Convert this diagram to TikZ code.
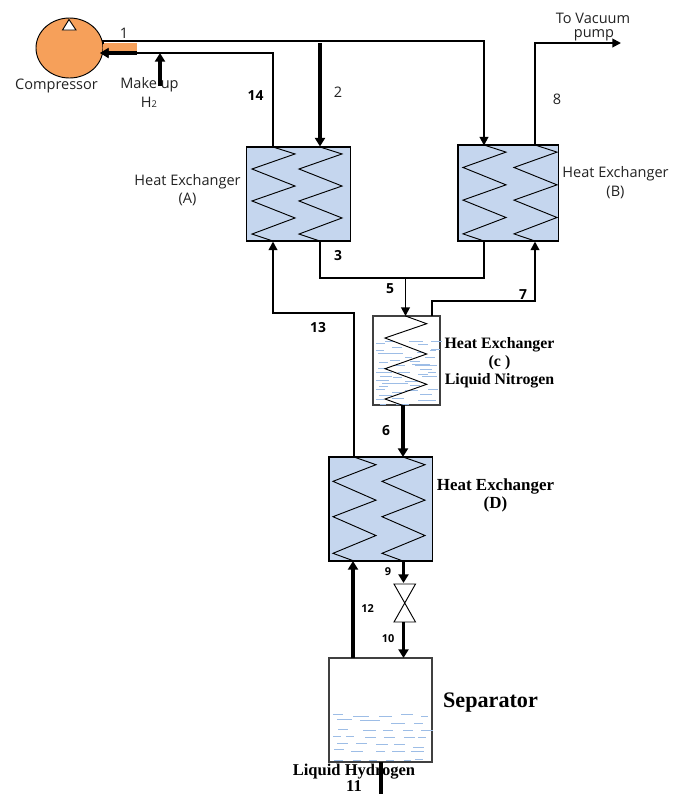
\documentclass[tikz,border=0pt]{standalone}
\usepackage{fontspec}
\setmainfont{Liberation Serif}
\newfontfamily\lblfont{Open Sans}
\usetikzlibrary{arrows.meta,calc,shapes.geometric}
\definecolor{hxblue}{HTML}{C5D6EE}
\definecolor{comporange}{HTML}{F6A05A}
\definecolor{liqblue}{HTML}{9DBDE6}
\definecolor{txt}{HTML}{222222}
\tikzset{
  hxbox/.style={draw=black,fill=hxblue,line width=0.8pt,minimum width=#1,inner sep=0pt,outer sep=0pt},
  vessel/.style={draw=black!75,fill=white,line width=0.8pt,inner sep=0pt,outer sep=0pt},
  coilline/.style={line width=0.7pt,line join=miter},
  pipe/.style={line width=1.4pt,line join=miter,-{Triangle[length=6.5pt,width=6.5pt]}},
  pipeplain/.style={line width=1.4pt,line join=miter},
  thickpipe/.style={line width=2.6pt,-{Triangle[length=6.5pt,width=7.5pt]}},
  lbl/.style={font=\lblfont\fontsize{10.9}{12}\selectfont,text=txt,align=center,inner sep=0pt},
  num/.style={font=\lblfont\bfseries\fontsize{10.4}{12}\selectfont,text=black,inner sep=0pt},
  small/.style={font=\lblfont\bfseries\fontsize{8.2}{10}\selectfont,text=black,inner sep=0pt},
  serifb/.style={font=\bfseries\fontsize{11.9}{15}\selectfont,text=black,align=center,inner sep=0pt},
  serifd/.style={font=\bfseries\fontsize{12.7}{15}\selectfont,text=black,align=center,inner sep=0pt},
  liq/.style={liqblue,line width=0.6pt},
}
\newcommand{\coil}[3]{% start x, top y, height
  \draw[coilline] (#1,#2)
   -- ++(22,0.074*#3) -- ++(-43,0.160*#3) -- ++(43,0.181*#3) -- ++(-43,0.159*#3)
   -- ++(43,0.181*#3) -- ++(-43,0.171*#3) -- ++(21,0.074*#3);
}
\begin{document}
\begin{tikzpicture}[x=0.75pt,y=-0.75pt]
\useasboundingbox (0,0) rectangle (680,794);

% compressor
\node[ellipse,draw=black,fill=comporange,line width=0.7pt,minimum width=50.25pt,minimum height=45pt,inner sep=0pt,outer sep=0pt] (comp) at (69.5,48) {};
\draw[fill=white,line width=0.7pt] (62.5,30) -- (69,19.5) -- (76,30) -- cycle;
\fill[comporange] (103,43) rectangle (137,53);

% boxes
\node[hxbox=77.6pt,minimum height=70.5pt] (hxa) at (298.5,194) {};
\node[hxbox=75.4pt,minimum height=72pt] (hxb) at (508.25,193) {};
\node[hxbox=77.6pt,minimum height=78pt] (hxd) at (380.75,509) {};
\node[vessel,minimum width=50.25pt,minimum height=66.75pt] (hxc) at (406.5,360.5) {};
\node[vessel,minimum width=77.25pt,minimum height=78pt] (sep) at (380.5,710) {};

% coils
\coil{273}{147}{94}
\coil{320}{147}{94}
\coil{484}{145}{96}
\coil{535}{145}{96}
\coil{354}{457}{104}
\coil{403}{457}{104}

% liquid nitrogen
\foreach \a/\b/\c in {
376/385/343,385/395/341,409/423/341,431/442/341,
376/384/350,392/402/347,418/428/344,431/440/349,
378/403/353,405/412/357,417/424/352,430/436/350,
379/388/362,390/400/360,410/420/361,425/435/357,
378/388/368,395/405/365,412/430/364,428/436/372,
376/392/372,393/402/377,415/437/365,
380/392/376,398/410/372,420/432/369,
382/396/383,405/418/381,422/437/376,
379/388/386,396/408/383,418/428/374,
376/385/389,392/402/392,410/420/385,428/438/389,
379/392/395,405/418/390,420/432/394,
376/384/399,392/404/398,418/436/400,
396/409/404,380/386/404,
376/389/380}{
  \draw[liq] (\a,\c) -- (\b,\c);
}
\draw[coilline] (405.5,316) -- (426.7,323.7) -- (385,338) -- (426.7,354) -- (385,368.7) -- (426.7,384.3) -- (385,399) -- (403,405.5);

% liquid hydrogen
\foreach \a/\b/\c in {
333/343/714,353/369/716,379/392/716,401/413/714,421/428/716,
337/352/719,360/380/720,391/405/723,414/423/723,
338/348/729,363/376/730,383/393/730,403/413/730,421/433/730,
333/341/736,346/354/736,365/376/737,384/395/737,404/415/737,418/426/737,
337/348/743,356/367/743,376/388/744,394/405/744,
334/344/749,351/363/751,376/385/751,392/405/751,411/424/751,
413/424/747,
334/343/760,353/361/760,369/377/760,386/394/760,404/411/760,415/423/759}{
  \draw[liq] (\a,\c) -- (\b,\c);
}

% valve
\coordinate (vtl) at (394,584);
\coordinate (vtr) at (415.5,584);
\coordinate (vbl) at (394,622);
\coordinate (vbr) at (415.5,622);
\coordinate (vtop) at (403.5,583);
\coordinate (vbot) at (403.5,622);
\draw[line width=0.7pt,fill=white] (vtl) -- (vtr) -- (vbl) -- (vbr) -- cycle;

% ports
\coordinate (c2) at (100,53);
\coordinate (mku) at (160,86);
\coordinate (v) at (160,53);
\coordinate (out) at (621,43);
\coordinate (a14) at (273,147);
\coordinate (a13) at (273,241.5);
\coordinate (a2) at (320,146.5);
\coordinate (a3) at (320,241);
\coordinate (b1) at (484,145.5);
\coordinate (b5) at (484,241);
\coordinate (b7) at (535,241.5);
\coordinate (b8) at (535,145);
\coordinate (c5) at (405.5,316);
\coordinate (c7) at (432,316);
\coordinate (c6) at (403,405);
\coordinate (d13) at (354,457);
\coordinate (d6) at (403,457);
\coordinate (d12) at (353,561);
\coordinate (d9) at (403.5,561);
\coordinate (s12) at (353,658);
\coordinate (s10) at (403.5,658);
\coordinate (s11) at (381,762);
\coordinate (e11) at (381,794);

% connectors
\draw[pipe] (103,44) -- (103,41) -- (484,41) -- (b1);
\draw[pipe] (a14) -- (273,53) -- (c2);
\draw[thickpipe] (137,53) -- (c2);
\draw[thickpipe] (mku) -- (v);
\draw[thickpipe] (320,43) -- (a2);
\draw[pipeplain] (a3) -- (320,278) -- (484,278) -- (b5);
\draw[pipe] (405.5,278) -- (c5);
\draw[pipe] (c7) -- (432,301) -- (535,301) -- (b7);
\draw[pipe] (b8) -- (535,43) -- (out);
\draw[pipe] (d13) -- (354,313) -- (273,313) -- (a13);
\draw[thickpipe] (c6) -- (d6);
\draw[thickpipe] (s12) -- (d12);
\draw[thickpipe] (d9) -- (vtop);
\draw[thickpipe] (vbot) -- (s10);
\draw[line width=2.6pt] (s11) -- (e11);

% labels
\node[lbl] (lc) at (56.5,86) {Compressor};
\node[lbl] (lm) at (149.5,85) {Make up};
\node[lbl] (lh) at (149,102) {H{\fontsize{7}{8}\selectfont 2}};
\node[lbl] at (187.5,181.5) {Heat Exchanger};
\node[lbl] at (187.5,199) {(A)};
\node[lbl] at (615.5,174) {Heat Exchanger};
\node[lbl] at (615.5,192.5) {(B)};
\node[lbl] at (593,18) {To Vacuum};
\node[lbl] at (594,35) {pump};
\node[lbl] at (124,33.5) {1};
\node[lbl] at (338,92) {2};
\node[lbl] at (557,99) {8};
\node[num] at (255.5,95.5) {14};
\node[num] at (338,256) {3};
\node[num] at (390,289) {5};
\node[num] at (523,295) {7};
\node[num] at (318,328) {13};
\node[num] at (386,431) {6};
\node[small] at (388,572) {9};
\node[small] at (367.5,609) {12};
\node[small] at (388,639) {10};
\node[serifb] at (499.5,345) {Heat Exchanger};
\node[serifb] at (499.5,362.5) {(c )};
\node[serifb] at (499.5,380.5) {Liquid Nitrogen};
\node[serifd] at (495.5,486) {Heat Exchanger};
\node[serifd] at (495.5,504) {(D)};
\node[font=\bfseries\fontsize{16.6}{18}\selectfont,inner sep=0pt] at (490.5,703) {Separator};
\node[font=\bfseries\fontsize{12.4}{15}\selectfont,inner sep=0pt] at (354,771.5) {Liquid Hydrogen};
\node[font=\bfseries\fontsize{12.4}{15}\selectfont,inner sep=0pt] at (354,786) {11};
\end{tikzpicture}
\end{document}
